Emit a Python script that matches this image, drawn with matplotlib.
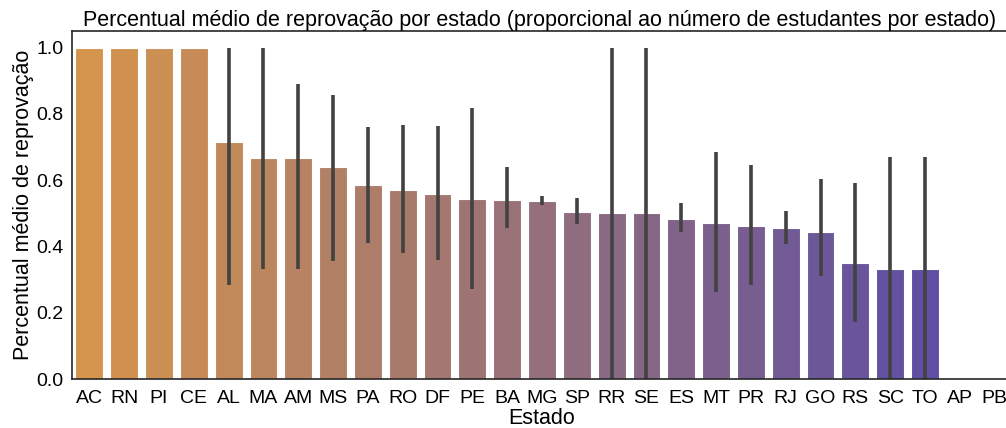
import numpy as np
import matplotlib
matplotlib.use("Agg")
import matplotlib.pyplot as plt
from matplotlib.colors import LinearSegmentedColormap

plt.rcParams['font.family'] = ['Liberation Sans', 'DejaVu Sans']

# Mean failure rate per state, with the confidence-interval ends
estados = ['AC', 'RN', 'PI', 'CE', 'AL', 'MA', 'AM', 'MS', 'PA', 'RO', 'DF', 'PE', 'BA', 'MG',
           'SP', 'RR', 'SE', 'ES', 'MT', 'PR', 'RJ', 'GO', 'RS', 'SC', 'TO', 'AP', 'PB']
media = [1.0, 1.0, 1.0, 1.0, 0.714, 0.667, 0.667, 0.640, 0.584, 0.569, 0.557, 0.542, 0.539, 0.536,
         0.503, 0.5, 0.5, 0.482, 0.470, 0.461, 0.455, 0.443, 0.349, 0.333, 0.333, np.nan, np.nan]
ci_low = [np.nan, np.nan, np.nan, np.nan, 0.283, 0.331, 0.331, 0.355, 0.41, 0.38, 0.358, 0.271, 0.455, 0.524,
          0.467, 0.0, 0.0, 0.443, 0.262, 0.283, 0.407, 0.31, 0.172, 0.0, 0.0, np.nan, np.nan]
ci_high = [np.nan, np.nan, np.nan, np.nan, 1.0, 1.0, 0.889, 0.858, 0.759, 0.765, 0.762, 0.819, 0.639, 0.551,
           0.545, 1.0, 1.0, 0.530, 0.684, 0.645, 0.506, 0.602, 0.59, 0.669, 0.669, np.nan, np.nan]

# palette: orange -> purple
cmap = LinearSegmentedColormap.from_list('op', ['#d5944c', '#5e4fa2'])
cores = [cmap(i / (len(estados) - 3)) for i in range(len(estados))]

fig = plt.figure(figsize=(10.06, 4.28), dpi=100)
ax = fig.add_axes([72 / 1006, 49 / 428, 940 / 1006, 348 / 428])

x = np.arange(len(estados))
alturas = np.nan_to_num(media)
ax.bar(x, alturas, width=0.8, color=cores, edgecolor='white', linewidth=0.8)
ax.vlines(x, ci_low, ci_high, color='#424242', linewidth=2.6)

ax.set_xlim(-0.5, len(estados) - 0.5)
ax.set_ylim(0, 1.05)
ax.set_xticks(x)
ax.set_xticklabels(estados)
ax.set_yticks([0, 0.2, 0.4, 0.6, 0.8, 1.0])
ax.tick_params(axis='both', labelsize=14, length=0)
ax.tick_params(axis='x', pad=8)
ax.tick_params(axis='y', pad=6)
for s in ax.spines.values():
    s.set_color('#262626')
    s.set_linewidth(1.2)

ax.set_title('Percentual médio de reprovação por estado (proporcional ao número de estudantes por estado)',
             fontsize=15.5, pad=3, x=(540 - 72) / 940)
ax.set_xlabel('Estado', fontsize=15.5, labelpad=1)
ax.set_ylabel('Percentual médio de reprovação', fontsize=15.5, labelpad=2)

fig.savefig('out.png', dpi=100)
